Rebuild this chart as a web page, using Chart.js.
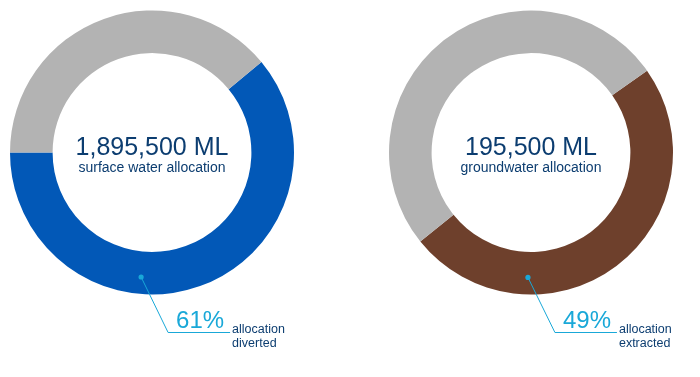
<!DOCTYPE html>
<html>
<head>
<meta charset="utf-8">
<script src="https://cdn.jsdelivr.net/npm/chart.js@4.4.1/dist/chart.umd.min.js"></script>
<style>
  html, body { margin:0; padding:0; background:#fff; }
  #wrap { position:relative; width:700px; height:377px; }
  .box { position:absolute; top:0; width:350px; height:377px; }
</style>
</head>
<body>
<div id="wrap">
  <div class="box" style="left:0"><canvas id="surface"></canvas></div>
  <div class="box" style="left:350px"><canvas id="ground"></canvas></div>
</div>
<script>

// data
const surfaceLabels = ['allocation diverted', 'remaining allocation']
const surfaceValues = [61, 39]
const surfaceTotal  = '1,895,500 ML'
const surfaceName   = 'surface water allocation'
const surfaceNote   = ['allocation', 'diverted']

const groundLabels  = ['allocation extracted', 'remaining allocation']
const groundValues  = [49, 51]
const groundTotal   = '195,500 ML'
const groundName    = 'groundwater allocation'
const groundNote    = ['allocation', 'extracted']

const NAVY = '#0c3d70'
const CYAN = '#19a8d8'
const GREY = '#b3b3b3'
const FONT = '"Liberation Sans", Arial, sans-serif'


// draws the total in the hole and the leader line with the percentage
const annotate = {
      id: 'annotate',
      afterDraw(chart, args, opt){
            const arc = chart.getDatasetMeta(0).data[0]
            const cx = arc.x, cy = arc.y
            const rIn = arc.innerRadius, rOut = arc.outerRadius
            const ctx = chart.ctx

            ctx.save()
            ctx.textAlign = 'center'
            ctx.textBaseline = 'alphabetic'
            ctx.fillStyle = NAVY
            ctx.font = '25px ' + FONT
            ctx.fillText(opt.total, cx, cy + 2)
            ctx.font = '14px ' + FONT
            ctx.fillText(opt.name, cx, cy + 19)

            // leader dot on the ring
            const a = opt.dotAngle * Math.PI / 180
            const rMid = rIn + (rOut - rIn) * 0.6
            const dx = cx + Math.sin(a) * rMid
            const dy = cy - Math.cos(a) * rMid
            const ex = dx + 27, ey = cy + 180

            ctx.strokeStyle = CYAN
            ctx.fillStyle = CYAN
            ctx.lineWidth = 1
            ctx.beginPath()
            ctx.moveTo(dx, dy)
            ctx.lineTo(ex, ey)
            ctx.lineTo(ex + 62, ey)
            ctx.stroke()
            ctx.beginPath()
            ctx.arc(dx, dy, 2.6, 0, Math.PI * 2)
            ctx.fill()

            ctx.textAlign = 'left'
            ctx.font = '24px ' + FONT
            ctx.fillText(opt.value + '%', ex + 8, ey - 4.5)
            ctx.fillStyle = NAVY
            ctx.font = '12.5px ' + FONT
            ctx.fillText(opt.note[0], ex + 64, ey + 0.5)
            ctx.fillText(opt.note[1], ex + 64, ey + 14)
            ctx.restore()
      }
}


function makeDonut(id, labels, values, color, rotation, pad, text){

      return new Chart(document.getElementById(id), {
            type: 'doughnut',
            data: {
                  labels: labels,
                  datasets: [{
                        data: values,
                        backgroundColor: [color, GREY],
                        borderWidth: 0,
                  }]
            },
            options: {
                  responsive: true,
                  maintainAspectRatio: false,
                  animation: false,
                  rotation: rotation,
                  cutout: '70%',
                  layout: { padding: pad },
                  plugins: {
                        legend: { display: false },
                        tooltip: { enabled: false },
                        annotate: text,
                  }
            },
            plugins: [annotate]
      })
}


makeDonut('surface', surfaceLabels, surfaceValues, '#0258b7', 50.4,
      { left: 10, top: 10, right: 56, bottom: 82 },
      { total: surfaceTotal, name: surfaceName, note: surfaceNote, value: surfaceValues[0], dotAngle: 185 })

makeDonut('ground', groundLabels, groundValues, '#6e402c', 54.8,
      { left: 39, top: 10, right: 27, bottom: 82 },
      { total: groundTotal, name: groundName, note: groundNote, value: groundValues[0], dotAngle: 181.4 })

</script>
</body>
</html>
